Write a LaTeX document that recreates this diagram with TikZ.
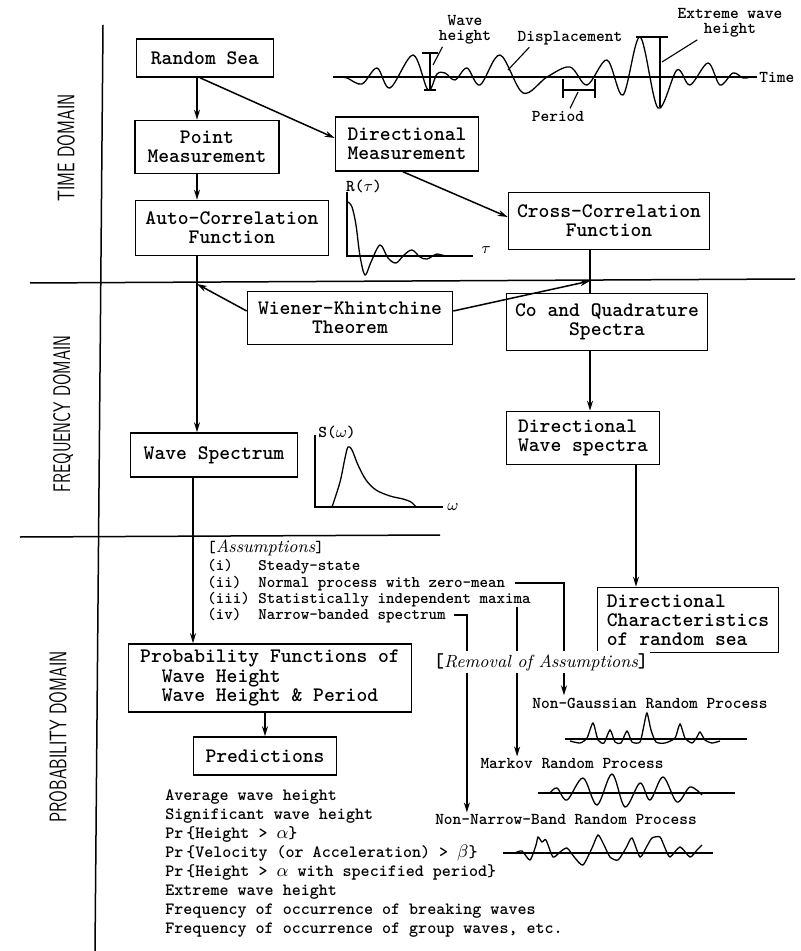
\documentclass[tikz,border=0pt]{standalone}
\usepackage{fontspec}
\usetikzlibrary{arrows.meta}

\newcommand{\boxfont}{\fontsize{10.3}{9.6}\selectfont\ttfamily\bfseries}
\newcommand{\smfont}{\fontsize{8.3}{7.5}\selectfont\ttfamily\bfseries}
\newcommand{\asfont}{\fontsize{8.1}{8.2}\selectfont\ttfamily\bfseries}
\newcommand{\lsfont}{\fontsize{8.6}{9.5}\selectfont\ttfamily\bfseries}
\newcommand{\domfont}{\fontsize{12}{14}\selectfont\sffamily}
\newcommand{\assm}[1]{{\ttfamily\bfseries[}{\fontsize{8.8}{10}\selectfont\rmfamily\mdseries\itshape #1}{\ttfamily\bfseries]}}

\tikzset{
  blk/.style={draw, line width=0.8pt, font=\boxfont, align=center, inner sep=2pt},
  arr/.style={line width=0.75pt, -{Stealth[length=5pt,width=3pt]}},
  lin/.style={line width=0.75pt},
  ptr/.style={line width=0.55pt},
  sm/.style={font=\smfont, inner sep=1pt, align=center},
  as/.style={font=\asfont, inner sep=0pt, anchor=base west},
  wave/.style={line width=0.65pt, smooth, tension=0.55},
  dom/.style={font=\domfont, rotate=90},
}

\begin{document}
\begin{tikzpicture}[x=0.5pt, y=-0.5pt]
\useasboundingbox (0,0) rectangle (801,951);

% domain lines
\draw[lin] (103,25) -- (95,951);
\draw[lin] (30,283) -- (795,279);
\draw[lin] (20,537) -- (440,535);

\node[dom] (td) at (66,148) {\scalebox{0.68}[1]{TIME DOMAIN}};
\node[dom] (fd) at (63,414) {\scalebox{0.66}[1]{FREQUENCY DOMAIN}};
\node[dom] (pd) at (58,737) {\scalebox{0.68}[1]{PROBABILITY DOMAIN}};

% boxes
\node[blk, minimum width=68.5pt, minimum height=19pt] (rs) at (205,58) {Random Sea};
\node[blk, minimum width=72pt, minimum height=26.5pt] (pm) at (207,147) {Point\\Measurement};
\node[blk, minimum width=96.5pt, minimum height=27.5pt] (ac) at (232,228) {Auto-Correlation\\Function};
\node[blk, minimum width=71.5pt, minimum height=27pt] (dm) at (407,144) {Directional\\Measurement};
\node[blk, minimum width=100.5pt, minimum height=28.5pt] (cc) at (609,221) {Cross-Correlation\\Function};
\node[blk, minimum width=102.5pt, minimum height=26.5pt] (wk) at (350,318) {Wiener-Khintchine\\Theorem};
\node[blk, minimum width=100.5pt, minimum height=28.5pt] (cq) at (607,322) {Co and Quadrature\\Spectra};
\node[blk, minimum width=83.5pt, minimum height=22pt] (ws) at (214,455) {Wave Spectrum};
\node[blk, minimum width=76.5pt, minimum height=26.5pt, align=left] (dws) at (583,438) {Directional\\Wave spectra};
\node[blk, minimum width=90.5pt, minimum height=32.5pt, align=left] (dc) at (688,620) {Directional\\Characteristics\\of random sea};
\node[blk, minimum width=141.5pt, minimum height=34pt, align=left] (pf) at (270,678) {Probability Functions of\\~~Wave Height\\~~Wave Height \& Period};
\node[blk, minimum width=71.5pt, minimum height=19pt] (pr) at (265,756) {Predictions};

% spines and junctions
\coordinate (lsp) at (197,0);
\coordinate (rsp) at (590,0);
\coordinate (j1) at (197,284);
\coordinate (j2) at (590,281);

% connectors
\draw[arr] (rs.south -| lsp) -- (pm.north -| lsp);
\draw[arr] ([xshift=-2.5pt]rs.south) -- ([yshift=3pt]dm.west);
\draw[arr] (pm.south -| lsp) -- (ac.north -| lsp);
\draw[arr] ([xshift=-2pt]dm.south) -- ([yshift=2pt]cc.west);
\draw[arr] (ac.south -| lsp) -- (ws.north -| lsp);
\draw[arr] ([yshift=3.5pt]wk.west) -- (j1);
\draw[arr] ([yshift=3.5pt]wk.east) -- (j2);
\draw[lin] (cc.south -| rsp) -- (cq.north -| rsp);
\draw[arr] (cq.south -| rsp) -- (dws.north -| rsp);
\draw[arr] ([xshift=26.5pt]dws.south) -- ([xshift=26.5pt]dws.south |- dc.north);
\draw[arr] (ws.south -| 193,0) -- (pf.north -| 193,0);
\draw[arr] (pf.south -| pr.north) -- (pr.north);

% time series
\draw[lin] (333,77) -- (757,77);
\node[sm, anchor=west] (tm) at (757,77) {Time};
\draw[wave] plot coordinates {(340,77) (347,78) (362,84) (377,68) (390,88) (413,55) (428,90)
  (437,74) (445,73) (455,80) (467,68) (480,85) (500,55) (523,93) (547,77) (570,67) (587,85)
  (607,60) (623,95) (640,37) (658,108) (677,70) (690,85) (708,63) (720,85) (733,73) (743,78) (750,77)};
\draw[ptr] (422,53) -- (438,53) (430,53) -- (430,90) (424,90) -- (436,90);
\draw[ptr] (563,90) -- (595,90) (563,79) -- (563,98) (595,79) -- (595,98);
\draw[ptr] (636,37) -- (668,37) (660,37) -- (660,107);
\node[sm] (wh) at (465,30) {Wave\\height};
\node[sm] (dp) at (570,38) {Displacement};
\node[sm] (pe) at (558,116) {Period};
\node[sm] (ew) at (730,23) {Extreme wave\\height};
\coordinate (whp) at (433,65);
\coordinate (dpp) at (508,70);
\coordinate (pep) at (578,92);
\coordinate (ewp) at (662,62);
\draw[ptr] ([xshift=3pt]wh.south west) -- (whp);
\draw[ptr] ([xshift=7pt]dp.south west) -- (dpp);
\draw[ptr] ([xshift=6pt]pe.north) -- (pep);
\draw[ptr] ([xshift=11pt]ew.south west) -- (ewp);

% auto-correlation sketch
\draw[lin] (347,192) -- (347,256) -- (473,256);
\node[sm] (rt) at (364,186) {R($\tau$)};
\node[sm] (ta) at (486,250) {$\tau$};
\draw[wave] plot coordinates {(348,202) (352,207) (356,225) (360,256) (365,275) (371,262) (380,245)
  (388,258) (396,263) (404,255) (412,250) (420,257) (427,259) (437,254) (445,256) (455,256)};

% spectrum sketch
\draw[lin] (315,435) -- (315,507) -- (443,507);
\node[sm] (sw) at (337,432) {S($\omega$)};
\node[sm] (om) at (453,507) {$\omega$};
\draw[wave] plot coordinates {(332,507) (340,482) (345,458) (348,447) (352,450) (358,465) (366,480)
  (376,490) (390,496) (403,499) (411,502) (416,507)};

% assumptions
\node[as] (a0) at (207,552) {\assm{Assumptions}};
\node[as] (a1) at (207,570) {(i)~~~Steady-state};
\node[as] (a2) at (207,587) {(ii)~~Normal process with zero-mean};
\node[as] (a3) at (207,603) {(iii)~Statistically independent maxima};
\node[as] (a4) at (207,619) {(iv)~~Narrow-banded spectrum};

% removal of assumptions
\node[sm] (ng) at (650,703) {Non-Gaussian Random Process};
\node[sm] (mk) at (572,764) {Markov Random Process};
\node[sm] (nn) at (566,820) {Non-Narrow-Band Random Process};
\coordinate (g2) at ([xshift=17pt]ng.north west);
\coordinate (m3) at ([xshift=19.5pt]mk.north west);
\coordinate (n4) at ([xshift=17pt]nn.north west);
\draw[arr] ([xshift=5pt]a2.east) -| (g2);
\draw[arr] (m3 |- a3.south) -- (m3);
\draw[arr] ([xshift=4pt]a4.east) -| (n4);
\node[fill=white, inner sep=1pt] (rm) at (541,662) {\assm{Removal of Assumptions}};

\draw[lin] (565,739) -- (747,739);
\draw[wave, tension=0.4] plot coordinates {(570,741) (580,743) (587,738) (593,723) (598,740) (604,743)
  (610,730) (615,742) (621,743) (627,731) (632,742) (640,742) (644,725) (647,713) (651,730) (656,742)
  (665,743) (675,738) (680,724) (685,738) (692,743) (697,737) (700,732) (705,740) (712,743) (720,741)};
\draw[lin] (538,793) -- (735,793);
\draw[wave] plot coordinates {(550,793) (557,788) (567,800) (583,778) (597,805) (612,774) (625,807)
  (640,783) (650,800) (663,777) (677,802) (690,787) (702,795)};
\draw[lin] (503,853) -- (713,853);
\draw[wave, tension=0.4] plot coordinates {(515,853) (522,851) (530,860) (536,845) (538,837) (542,842)
  (546,840) (553,857) (560,852) (567,848) (575,858) (583,865) (592,848) (598,835) (604,845) (610,857)
  (618,860) (626,848) (632,838) (640,857) (647,846) (652,838) (660,837) (665,848) (670,857) (680,847)
  (690,857) (697,850) (702,845)};

% predictions list
\node[font=\lsfont, inner sep=0pt, anchor=north west, align=left] (pl) at (165,789) {%
Average wave height\\
Significant wave height\\
Pr\,\{Height > $\alpha$\}\\
Pr\,\{Velocity (or Acceleration) > $\beta$\}\\
Pr\,\{Height > $\alpha$ with specified period\}\\
Extreme wave height\\
Frequency of occurrence of breaking waves\\
Frequency of occurrence of group waves, etc.};

\end{tikzpicture}
\end{document}
